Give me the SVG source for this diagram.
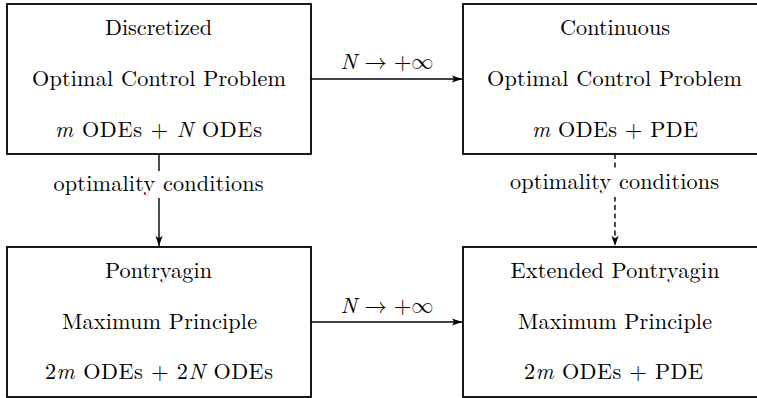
<svg xmlns="http://www.w3.org/2000/svg" width="757" height="398" viewBox="0 0 757 398">
<style>
.box{fill:#fff;stroke:#000;stroke-width:1.8}
.t{font-size:22.2px;fill:#000;text-anchor:middle}
.i{font-style:italic}
.c{fill:none;stroke:#000;stroke-width:1.4}
.d{stroke-dasharray:5 3.5}
.bg{fill:#fff;stroke:none}
</style>
<defs>
<marker id="ah" markerUnits="userSpaceOnUse" markerWidth="11" markerHeight="8" refX="10" refY="4" orient="auto">
<path d="M0,0.5 L10,4 L0,7.5 L2.2,4 Z" fill="#000"/>
</marker>
</defs>
<rect width="757" height="398" fill="#fff"/>
<g id="connectors" font-family="Latin Modern Roman">
<path class="c" d="M311,79 H462" marker-end="url(#ah)"/>
<text class="t" x="387" y="69" textLength="93" lengthAdjust="spacing"><tspan class="i">N</tspan> <tspan font-family="Latin Modern Math">→</tspan> +<tspan font-family="Latin Modern Math">∞</tspan></text>
<path class="c" d="M311,322 H462" marker-end="url(#ah)"/>
<text class="t" x="387" y="312.5" textLength="93" lengthAdjust="spacing"><tspan class="i">N</tspan> <tspan font-family="Latin Modern Math">→</tspan> +<tspan font-family="Latin Modern Math">∞</tspan></text>
<path class="c" d="M159,154 V246" marker-end="url(#ah)"/>
<rect class="bg" x="50" y="171" width="218" height="27"/>
<text class="t" x="158.5" y="190.5" textLength="210" lengthAdjust="spacing">optimality conditions</text>
<path class="c d" d="M615,154 V246" marker-end="url(#ah)"/>
<rect class="bg" x="506" y="170" width="218" height="27"/>
<text class="t" x="614.5" y="189" textLength="209" lengthAdjust="spacing">optimality conditions</text>
</g>
<g id="discretized" font-family="Latin Modern Roman">
<rect class="box" x="7" y="4" width="304" height="150"/>
<text class="t" x="158.5" y="35" textLength="107" lengthAdjust="spacing">Discretized</text>
<text class="t" x="159" y="86" textLength="254" lengthAdjust="spacing">Optimal Control Problem</text>
<text class="t" x="158.5" y="137" textLength="207" lengthAdjust="spacing"><tspan class="i">m</tspan> ODEs + <tspan class="i">N</tspan> ODEs</text>
</g>
<g id="continuous" font-family="Latin Modern Roman">
<rect class="box" x="463" y="4" width="303" height="150"/>
<text class="t" x="615" y="35" textLength="110" lengthAdjust="spacing">Continuous</text>
<text class="t" x="614.5" y="86" textLength="255" lengthAdjust="spacing">Optimal Control Problem</text>
<text class="t" x="615" y="137" textLength="166" lengthAdjust="spacing"><tspan class="i">m</tspan> ODEs + PDE</text>
</g>
<g id="pontryagin" font-family="Latin Modern Roman">
<rect class="box" x="7" y="247" width="304" height="150"/>
<text class="t" x="158.5" y="277.5" textLength="107" lengthAdjust="spacing">Pontryagin</text>
<text class="t" x="159.5" y="329" textLength="195" lengthAdjust="spacing">Maximum Principle</text>
<text class="t" x="159" y="378.5" textLength="228" lengthAdjust="spacing">2<tspan class="i">m</tspan> ODEs + 2<tspan class="i">N</tspan> ODEs</text>
</g>
<g id="extended" font-family="Latin Modern Roman">
<rect class="box" x="463" y="247" width="303" height="150"/>
<text class="t" x="615" y="277.5" textLength="209" lengthAdjust="spacing">Extended Pontryagin</text>
<text class="t" x="615" y="329" textLength="194" lengthAdjust="spacing">Maximum Principle</text>
<text class="t" x="613.5" y="378.5" textLength="179" lengthAdjust="spacing">2<tspan class="i">m</tspan> ODEs + PDE</text>
</g>
</svg>
